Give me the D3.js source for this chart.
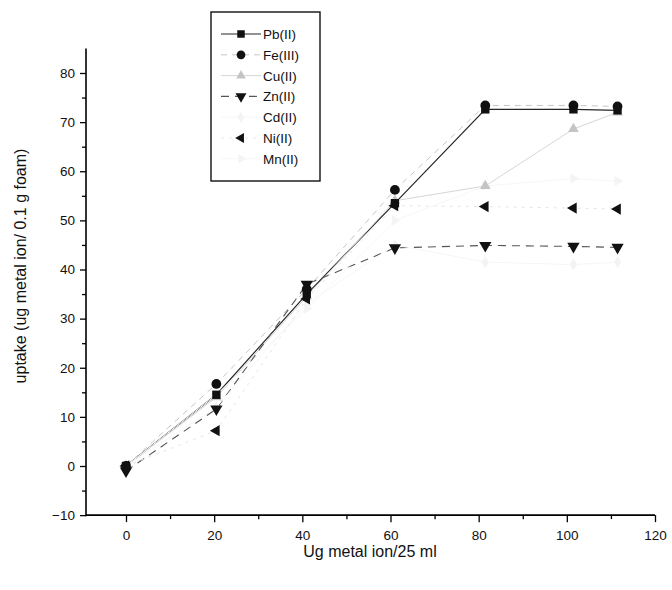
<!DOCTYPE html>
<html>
<head>
<meta charset="utf-8">
<script src="https://cdn.jsdelivr.net/npm/d3@7/dist/d3.min.js"></script>
<style>
  html, body { margin: 0; padding: 0; background: #fff; }
  svg { display: block; font-family: "Liberation Sans", Arial, sans-serif; }
</style>
</head>
<body>
<svg id="chart" width="672" height="590"></svg>
<script>
// Metal ion concentration (ug / 25 ml)
const concentrations = [0, 20.5, 41, 61, 81.5, 101.5, 111.5];

// Uptake (ug metal ion / 0.1 g foam) for each ion
const pbValues = [0, 14.5, 35, 53.5, 72.6, 72.6, 72.4];
const feValues = [0, 16.7, 36, 56.2, 73.4, 73.4, 73.2];
const cuValues = [0, 14, 34.5, 54, 57, 68.6, 72];
const znValues = [-1, 11.6, 37, 44.4, 44.9, 44.7, 44.5];
const cdValues = [0, 12, 33, 45, 41.5, 41, 41.5];
const niValues = [0, 7.2, 34, 53, 52.8, 52.5, 52.3];
const mnValues = [0, 14.5, 32, 50, 57, 58.5, 58];

const ionNames = ["Pb(II)", "Fe(III)", "Cu(II)", "Zn(II)", "Cd(II)", "Ni(II)", "Mn(II)"];

const xTicks = [0, 20, 40, 60, 80, 100, 120];
const xMinorTicks = [10, 30, 50, 70, 90, 110];
const yTicks = [-10, 0, 10, 20, 30, 40, 50, 60, 70, 80];
const yMinorTicks = [-5, 5, 15, 25, 35, 45, 55, 65, 75];

// Styling per ion (greyscale print of the default plot palette)
const styles = [
  { symbol: d3.symbolSquare,   rot: 0,   size: 70, fill: "#111",    line: "#262626", dash: null,  width: 1.2 },
  { symbol: d3.symbolCircle,   rot: 0,   size: 75, fill: "#111",    line: "#c6c6c6", dash: "6,5", width: 1.0 },
  { symbol: d3.symbolTriangle, rot: 0,   size: 50, fill: "#c4c4c4", line: "#d6d6d6", dash: null,  width: 1.0 },
  { symbol: d3.symbolTriangle, rot: 180, size: 65, fill: "#111",    line: "#555",    dash: "8,6", width: 1.1 },
  { symbol: d3.symbolDiamond,  rot: 0,   size: 45, fill: "#f3f3f3", line: "#f6f6f6", dash: null,  width: 1.0 },
  { symbol: d3.symbolTriangle, rot: -90, size: 55, fill: "#111",    line: "#e6e6e6", dash: "3,5", width: 1.0 },
  { symbol: d3.symbolTriangle, rot: 90,  size: 45, fill: "#f4f4f4", line: "#f7f7f7", dash: null,  width: 1.0 }
];

const seriesValues = [pbValues, feValues, cuValues, znValues, cdValues, niValues, mnValues];

const svg = d3.select("#chart");

const x = d3.scaleLinear().domain([0, 120]).range([126, 655]);
const y = d3.scaleLinear().domain([0, 80]).range([466, 73]);

const axisX = 86;            // pixel position of the vertical axis
const axisY = y(-10);        // pixel position of the horizontal axis

// Horizontal axis
const gx = svg.append("g").attr("transform", `translate(0,${axisY})`);
gx.call(d3.axisBottom(x).tickValues(xTicks).tickSize(7).tickPadding(8).tickFormat(d3.format("d")));
gx.append("g").call(d3.axisBottom(x).tickValues(xMinorTicks).tickSize(4).tickFormat(""));
gx.selectAll(".domain").remove();
gx.append("line").attr("x1", axisX).attr("x2", x(120)).attr("y1", 0).attr("y2", 0)
  .attr("stroke", "#000").attr("stroke-width", 1.6);
gx.selectAll(".tick line").attr("stroke", "#000").attr("stroke-width", 1.3);
gx.selectAll(".tick text").attr("font-size", 13.5).attr("fill", "#111")
  .attr("font-family", "Liberation Sans, Arial, sans-serif");

// Vertical axis
const gy = svg.append("g").attr("transform", `translate(${axisX},0)`);
gy.call(d3.axisLeft(y).tickValues(yTicks).tickSize(6).tickPadding(5).tickFormat(d3.format("d")));
gy.append("g").call(d3.axisLeft(y).tickValues(yMinorTicks).tickSize(4).tickFormat(""));
gy.selectAll(".domain").remove();
gy.append("line").attr("x1", 0).attr("x2", 0).attr("y1", y(85)).attr("y2", axisY + 1)
  .attr("stroke", "#000").attr("stroke-width", 1.6);
gy.selectAll(".tick line").attr("stroke", "#000").attr("stroke-width", 1.3);
gy.selectAll(".tick text").attr("font-size", 13.5).attr("fill", "#111")
  .attr("font-family", "Liberation Sans, Arial, sans-serif");

// Axis titles
svg.append("text")
  .attr("x", 370).attr("y", 557)
  .attr("text-anchor", "middle").attr("font-size", 16).attr("fill", "#111")
  .text("Ug metal ion/25 ml");

svg.append("text")
  .attr("transform", `translate(26,266) rotate(-90)`)
  .attr("text-anchor", "middle").attr("font-size", 16).attr("fill", "#111")
  .text("uptake (ug metal ion/ 0.1 g foam)");

// Series lines
const lineGen = d3.line()
  .defined(d => d[1] != null)
  .x(d => x(d[0]))
  .y(d => y(d[1]));

const plot = svg.append("g");

seriesValues.forEach((vals, i) => {
  const st = styles[i];
  const pts = concentrations.map((c, j) => [c, vals[j]]);
  plot.append("path")
    .datum(pts)
    .attr("fill", "none")
    .attr("stroke", st.line)
    .attr("stroke-width", st.width)
    .attr("stroke-dasharray", st.dash)
    .attr("d", lineGen);
});

// Markers (faint series first so the dark ones stay on top)
const drawOrder = [6, 4, 2, 5, 3, 1, 0];
drawOrder.forEach(i => {
  const st = styles[i];
  const vals = seriesValues[i];
  const sym = d3.symbol().type(st.symbol).size(st.size);
  plot.append("g").selectAll("path")
    .data(concentrations.map((c, j) => [c, vals[j]]).filter(d => d[1] != null))
    .join("path")
    .attr("d", sym)
    .attr("fill", st.fill)
    .attr("transform", d => `translate(${x(d[0])},${y(d[1])}) rotate(${st.rot})`);
});

// Legend
const legend = svg.append("g");
legend.append("rect")
  .attr("x", 211).attr("y", 12).attr("width", 109).attr("height", 169)
  .attr("fill", "#fff").attr("stroke", "#111").attr("stroke-width", 1.4);

ionNames.forEach((name, i) => {
  const st = styles[i];
  const cy = 34 + i * 20.8;
  legend.append("line")
    .attr("x1", 221).attr("x2", 261).attr("y1", cy).attr("y2", cy)
    .attr("stroke", st.line).attr("stroke-width", st.width)
    .attr("stroke-dasharray", st.dash);
  legend.append("path")
    .attr("d", d3.symbol().type(st.symbol).size(st.size * 0.8))
    .attr("fill", st.fill)
    .attr("transform", `translate(241,${cy}) rotate(${st.rot})`);
  legend.append("text")
    .attr("x", 263).attr("y", cy + 5)
    .attr("font-size", 13.5).attr("fill", "#111")
    .text(name);
});
</script>
</body>
</html>
